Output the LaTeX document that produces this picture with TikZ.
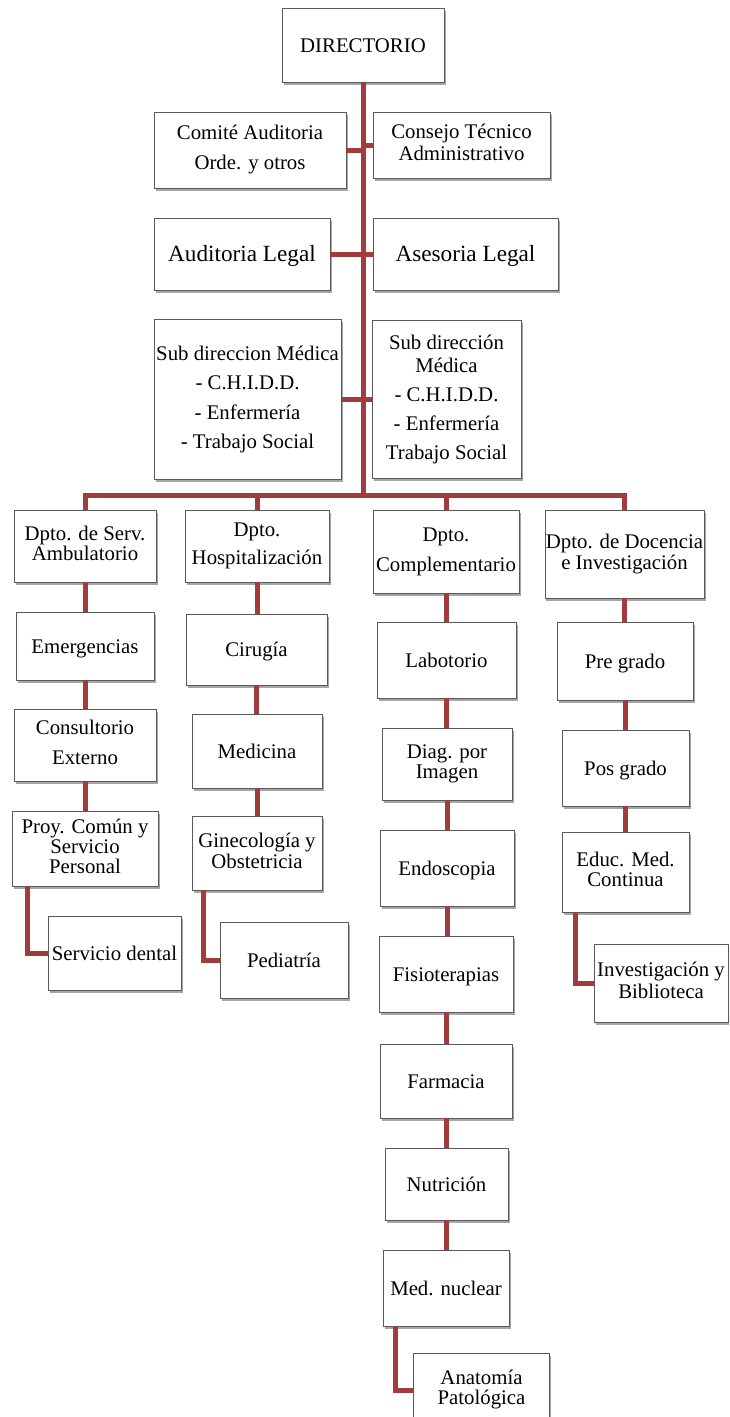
\documentclass[tikz,border=0pt]{standalone}
\usepackage{fontspec}
\setmainfont{Liberation Serif}
\usetikzlibrary{shadows}
\definecolor{connc}{RGB}{162,60,60}
\definecolor{boxc}{RGB}{90,90,90}
\newcommand\fsz{\fontsize{20.8}{21}\selectfont}
\newcommand\fbig{\fontsize{23.2}{24}\selectfont}
\tikzset{
  box/.style={draw=boxc, line width=0.8pt, fill=white, align=center, inner sep=1pt,
    font=\fsz,
    execute at begin node={\rule{0pt}{19pt}},
    execute at end node={\rule[-4.5pt]{0pt}{4.5pt}},
    drop shadow={shadow xshift=1.5pt, shadow yshift=-2.5pt, opacity=0.35, fill=black}},
  conn/.style={draw=connc, line width=5pt, line join=miter}
}
\begin{document}
\begin{tikzpicture}[x=1pt,y=-1pt]
\useasboundingbox (0,0) rectangle (729,1417);
\clip (0,0) rectangle (729,1417);
\fill[white] (0,0) rectangle (729,1417);
% top section
\node[box, minimum width=162, minimum height=74] (dir) at (363,45) {DIRECTORIO};
\node[box, minimum width=192, minimum height=76] (comite) at (250,150) {Comité Auditoria\\[9pt]Orde. y otros};
\node[box, minimum width=177, minimum height=66] (consejo) at (461.5,145) {Consejo Técnico\\[1pt]Administrativo};
\node[box, minimum width=176, minimum height=72, font=\fbig] (audleg) at (242,254) {Auditoria Legal};
\node[box, minimum width=185, minimum height=72, font=\fbig] (aseleg) at (465.5,254) {Asesoria Legal};
\node[box, minimum width=187, minimum height=160] (subL) at (247.5,399.5) {Sub direccion Médica\\[8.5pt]- C.H.I.D.D.\\[8.5pt]- Enfermería\\[8.5pt]- Trabajo Social};
\node[box, minimum width=149, minimum height=158] (subR) at (446.5,399.5) {Sub dirección\\[2pt]Médica\\[8pt]- C.H.I.D.D.\\[8pt]- Enfermería\\[8pt]Trabajo Social};
% departments
\node[box, minimum width=142, minimum height=72] (d1) at (85,546) {Dpto. de Serv.\\[-1pt]Ambulatorio};
\node[box, minimum width=144, minimum height=72] (d2) at (257,546) {Dpto.\\[7pt]Hospitalización};
\node[box, minimum width=146, minimum height=83] (d3) at (446,551.5) {Dpto.\\[9pt]Complementario};
\node[box, minimum width=159, minimum height=88] (d4) at (624.5,554) {Dpto. de Docencia\\e Investigación};
% column 1
\node[box, minimum width=138, minimum height=68] (emer) at (85,646) {Emergencias};
\node[box, minimum width=142, minimum height=72] (cext) at (85,745) {Consultorio\\[9pt]Externo};
\node[box, minimum width=146, minimum height=75] (proy) at (85,848.5) {Proy. Común y\\[-1pt]Servicio\\[-1pt]Personal};
\node[box, minimum width=133, minimum height=74] (dental) at (114.5,953) {Servicio dental};
% column 2
\node[box, minimum width=141, minimum height=71] (cir) at (256.5,649.5) {Cirugía};
\node[box, minimum width=130, minimum height=74] (med) at (257,751) {Medicina};
\node[box, minimum width=130, minimum height=74] (gin) at (257,853) {Ginecología y\\Obstetricia};
\node[box, minimum width=128, minimum height=76] (ped) at (284,960.5) {Pediatría};
% column 3
\node[box, minimum width=139, minimum height=76] (lab) at (446.5,660) {Labotorio};
\node[box, minimum width=130, minimum height=72] (diag) at (447,764) {Diag. por\\[-1pt]Imagen};
\node[box, minimum width=134, minimum height=76] (endo) at (447,868) {Endoscopia};
\node[box, minimum width=134, minimum height=76] (fisio) at (446,974) {Fisioterapias};
\node[box, minimum width=132, minimum height=74] (farm) at (446,1081) {Farmacia};
\node[box, minimum width=123, minimum height=72] (nutr) at (446.5,1184) {Nutrición};
\node[box, minimum width=126, minimum height=76] (mednuc) at (446,1288) {Med. nuclear};
\node[box, minimum width=136, minimum height=74] (anat) at (481.5,1390) {Anatomía\\[-1pt]Patológica};
% column 4
\node[box, minimum width=136, minimum height=78] (pre) at (625,661) {Pre grado};
\node[box, minimum width=127, minimum height=76] (pos) at (625.5,768) {Pos grado};
\node[box, minimum width=127, minimum height=80] (educ) at (625.5,872) {Educ. Med.\\[-1pt]Continua};
\node[box, minimum width=134, minimum height=78] (inv) at (661,983) {Investigación y\\[1pt]Biblioteca};
% coordinates
\coordinate (busy) at (0,495);
\coordinate (e1) at (27,886);
\coordinate (e2) at (203,890);
\coordinate (e3) at (395,1326);
\coordinate (e4) at (575,912);
% connectors
\draw[conn] (dir.south) -- (dir.south |- busy);
\draw[conn] (comite.east) -- (comite.east -| dir.south);
\draw[conn] (consejo.west) -- (consejo.west -| dir.south);
\draw[conn] (audleg.east) -- (aseleg.west);
\draw[conn] (subL.east) -- (subR.west);
\draw[conn] (d1.north) -- (d1.north |- busy) -- (d4.north |- busy) -- (d4.north);
\draw[conn] (d2.north) -- (d2.north |- busy);
\draw[conn] (d3.north) -- (d3.north |- busy);
\draw[conn] (d1.south) -- (d1.south |- emer.north);
\draw[conn] (emer.south) -- (emer.south |- cext.north);
\draw[conn] (cext.south) -- (cext.south |- proy.north);
\draw[conn] (e1) |- (dental.west);
\draw[conn] (d2.south) -- (d2.south |- cir.north);
\draw[conn] (cir.south) -- (cir.south |- med.north);
\draw[conn] (med.south) -- (med.south |- gin.north);
\draw[conn] (e2) |- (ped.west);
\draw[conn] (d3.south) -- (d3.south |- lab.north);
\draw[conn] (lab.south) -- (lab.south |- diag.north);
\draw[conn] (diag.south) -- (diag.south |- endo.north);
\draw[conn] (endo.south) -- (endo.south |- fisio.north);
\draw[conn] (fisio.south) -- (fisio.south |- farm.north);
\draw[conn] (farm.south) -- (farm.south |- nutr.north);
\draw[conn] (nutr.south) -- (nutr.south |- mednuc.north);
\draw[conn] (e3) |- (anat.west);
\draw[conn] (d4.south) -- (d4.south |- pre.north);
\draw[conn] (pre.south) -- (pre.south |- pos.north);
\draw[conn] (pos.south) -- (pos.south |- educ.north);
\draw[conn] (e4) |- (inv.west);
\end{tikzpicture}
\end{document}
